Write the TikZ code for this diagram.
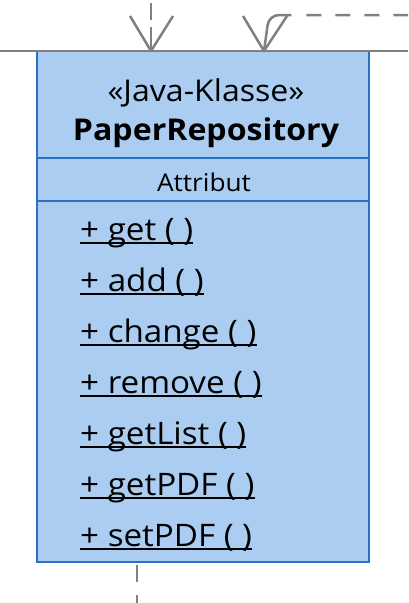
\documentclass[tikz,border=0pt]{standalone}
\usepackage{fontspec}
\newfontfamily\umlfont{Open Sans}[FakeStretch=1.07]
\usepackage{xcolor}
\usetikzlibrary{arrows.meta, positioning, calc}
\definecolor{claseazul}{HTML}{AACDF1}
\definecolor{bordeazul}{HTML}{2A72C6}
\definecolor{lineagris}{HTML}{808080}

\begin{document}
\begin{tikzpicture}[x=1pt, y=-1pt,
    % Caja de la clase
    clase/.style={
        rectangle,
        draw=bordeazul,
        fill=claseazul,
        line width=2.6pt,
        minimum width=332pt,
        minimum height=511pt,
        outer sep=0pt
    },
    texto/.style={inner sep=0pt, font=\umlfont\fontsize{24.5}{24.5}\selectfont},
    op/.style={inner sep=0pt, anchor=base west, font=\umlfont\fontsize{31}{31}\selectfont},
    separador/.style={draw=bordeazul, line width=2.4pt},
    subrayado/.style={draw=black, line width=1.8pt},
    conector/.style={draw=lineagris, line width=2.5pt},
    punta/.style={draw=lineagris, line width=2.5pt, line join=round}
]
    \useasboundingbox (0,0) rectangle (408,603);

    % --- CLASE ---
    \node[clase] (cls) at (203,306.5) {};
    \draw[separador] ($(cls.north west)+(0,107)$) -- ($(cls.north east)+(0,107)$);
    \draw[separador] ($(cls.north west)+(0,150)$) -- ($(cls.north east)+(0,150)$);

    % Cabecera
    \node[texto, anchor=base, font=\umlfont\fontsize{30}{30}\selectfont] (estereotipo) at (206,101) {«Java-Klasse»};
    \node[texto, anchor=base, font=\umlfont\bfseries\fontsize{30}{30}\selectfont] (nombre) at (206,140) {PaperRepository};

    % Atributos
    \node[texto, anchor=base] (attr) at (204,191) {Attribut};

    % Operaciones
    \foreach \metodo [count=\i] in {get, add, change, remove, getList, getPDF, setPDF} {
        \node[op] (op\i) at (80, 240+51*\i-51) {+ \metodo\ ( )};
        \draw[subrayado] ($(op\i.base west)+(0,3)$) -- ($(op\i.base east)+(0,3)$);
    }

    % --- CONECTORES ---
    \coordinate (bordeizq) at (0,51);
    \coordinate (bordeder) at (408,51);
    \draw[conector] (bordeizq) -- (bordeder);

    % Flecha 1 (vertical)
    \coordinate (fuenteA) at (151,0);
    \coordinate (puntaA) at ($(cls.north west)+(114,0)$);
    \draw[conector, dash pattern=on 24pt off 7pt on 17pt off 20pt] (puntaA) -- (fuenteA);
    \draw[punta] ($(puntaA)+(-21,-35)$) -- (puntaA) -- ($(puntaA)+(22,-35)$);

    % Flecha 2 (desde la derecha)
    \coordinate (fuenteB) at (408,15);
    \coordinate (esquinaB) at (269,15);
    \coordinate (puntaB) at ($(cls.north west)+(227,0)$);
    \draw[conector, rounded corners=10pt, dash pattern=on 55pt off 15pt on 15pt off 14pt on 15pt off 14pt on 15pt off 14pt on 16pt off 5pt] (puntaB) -- (esquinaB) -- (fuenteB);
    \draw[punta] ($(puntaB)+(-21,-35)$) -- (puntaB) -- ($(puntaB)+(23,-35)$);

    % Linea inferior
    \coordinate (salida) at ($(cls.south west)+(100,0)$);
    \coordinate (destino) at (137,603);
    \draw[conector, dash pattern=on 17pt off 13pt, dash phase=27pt] (salida) -- (destino);

\end{tikzpicture}
\end{document}
